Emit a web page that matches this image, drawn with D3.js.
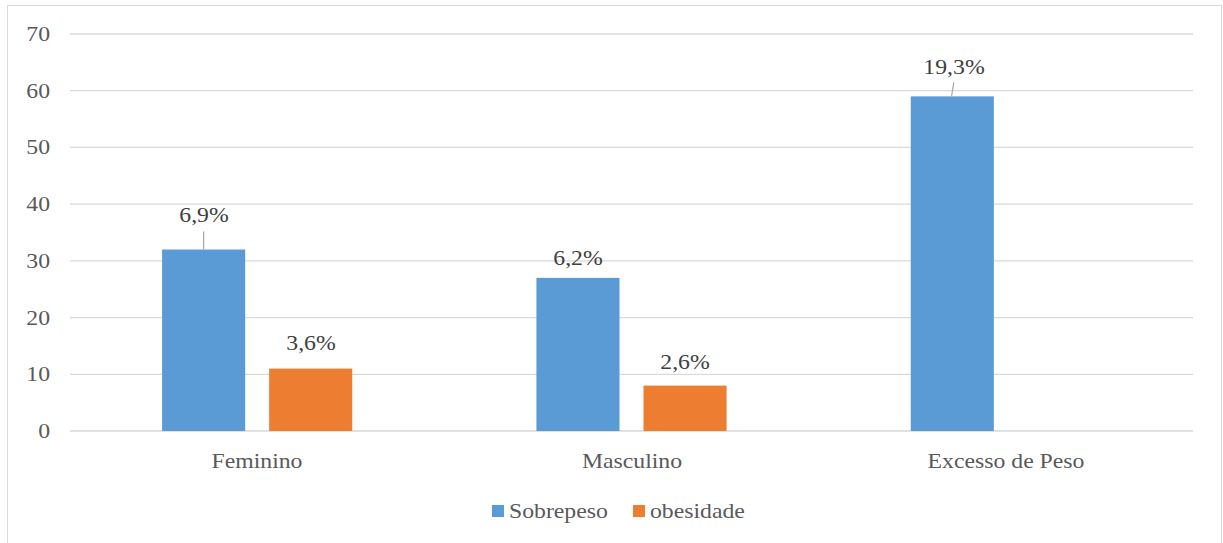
<!DOCTYPE html>
<html>
<head>
<meta charset="utf-8">
<script src="https://cdn.jsdelivr.net/npm/d3@7"></script>
<style>
  body { margin: 0; background: #fff; }
  #chart { position: relative; width: 1223px; height: 543px; overflow: hidden; }
  #chart svg { position: absolute; left: 0; top: 0; }
  .lbl { position: absolute; white-space: nowrap; line-height: 1;
         font-family: 'Liberation Serif', 'Times New Roman', serif; font-size: 21px; }
</style>
</head>
<body>
<div id="chart"><svg width="1223" height="543"></svg></div>
<script>
var categories = ['Feminino', 'Masculino', 'Excesso de Peso'];
var series = ['Sobrepeso', 'obesidade'];
var sobrepeso = [32, 27, 59];
var obesidade = [11, 8, null];
var sobrepesoLabels = ['6,9%', '6,2%', '19,3%'];
var obesidadeLabels = ['3,6%', '2,6%', null];
var yTicks = [0, 10, 20, 30, 40, 50, 60, 70];

var colors = { Sobrepeso: '#5b9bd5', obesidade: '#ed7d31' };
// gap between bar top and label centre, leader line length where there is one
var labelGap = { 'Feminino|Sobrepeso': 35, 'Feminino|obesidade': 26, 'Masculino|Sobrepeso': 20,
                 'Masculino|obesidade': 24, 'Excesso de Peso|Sobrepeso': 29 };
var leader = { 'Feminino|Sobrepeso': [0, 18], 'Excesso de Peso|Sobrepeso': [1.5, 14] };
var stretch = 1.13;   // text in the source is a bit wide

var chart = d3.select('#chart');
var svg = chart.select('svg');

function label(txt, px, py, anchor, color) {
  var tr = anchor === 'end' ? 'translate(-100%,-50%)' : anchor === 'start' ? 'translate(0,-50%)' : 'translate(-50%,-50%)';
  var origin = anchor === 'end' ? 'right center' : anchor === 'start' ? 'left center' : 'center center';
  chart.append('div').attr('class', 'lbl')
     .style('left', px + 'px').style('top', py + 'px')
     .style('transform-origin', origin)
     .style('transform', tr + ' scaleX(' + stretch + ')')
     .style('color', color)
     .text(txt);
}

// chart frame
svg.append('rect')
   .attr('x', 7.5).attr('y', 5.5)
   .attr('width', 1214).attr('height', 560)
   .attr('fill', '#fff')
   .attr('stroke', '#d9d9d9');

var plotLeft = 70, plotRight = 1193, plotTop = 34, plotBottom = 431;

var x = d3.scaleBand().domain(categories).range([plotLeft, plotRight]);
var x1 = d3.scaleBand().domain(series).range([0, x.bandwidth()]).paddingInner(0.224).paddingOuter(0.86);
var y = d3.scaleLinear().domain([0, 70]).range([plotBottom, plotTop]);

// grid
svg.append('g').selectAll('line')
   .data(yTicks).enter().append('line')
   .attr('x1', plotLeft).attr('x2', plotRight)
   .attr('y1', function(d) { return y(d); })
   .attr('y2', function(d) { return y(d); })
   .attr('stroke', '#d9d9d9').attr('stroke-width', 1.3);

// y labels
yTicks.forEach(function(d) { label(d, 50, y(d), 'end', '#595959'); });

// x labels
categories.forEach(function(c) { label(c, x(c) + x.bandwidth() / 2, 461, 'middle', '#595959'); });

var rows = [];
categories.forEach(function(c, i) {
  rows.push({ cat: c, s: 'Sobrepeso', v: sobrepeso[i], label: sobrepesoLabels[i] });
  rows.push({ cat: c, s: 'obesidade', v: obesidade[i], label: obesidadeLabels[i] });
});
rows = rows.filter(function(d) { return d.v != null; });
function cx(d) { return x(d.cat) + x1(d.s) + x1.bandwidth() / 2; }
function key(d) { return d.cat + '|' + d.s; }

svg.append('g').selectAll('rect')
   .data(rows).enter().append('rect')
   .attr('x', function(d) { return x(d.cat) + x1(d.s); })
   .attr('y', function(d) { return y(d.v); })
   .attr('width', x1.bandwidth())
   .attr('height', function(d) { return y(0) - y(d.v); })
   .attr('fill', function(d) { return colors[d.s]; });

// leader lines
svg.append('g').selectAll('line')
   .data(rows.filter(function(d) { return leader[key(d)]; }))
   .enter().append('line')
   .attr('x1', function(d) { return cx(d) + leader[key(d)][0]; })
   .attr('x2', function(d) { return cx(d) - leader[key(d)][0] / 2; })
   .attr('y1', function(d) { return y(d.v) - leader[key(d)][1]; })
   .attr('y2', function(d) { return y(d.v); })
   .attr('stroke', '#a6a6a6').attr('stroke-width', 1.2);

// value labels
rows.forEach(function(d) {
  label(d.label, cx(d) + (leader[key(d)] ? leader[key(d)][0] : 0), y(d.v) - labelGap[key(d)], 'middle', '#404040');
});

// legend
var items = [{ s: 'Sobrepeso', x: 492 }, { s: 'obesidade', x: 633 }];
items.forEach(function(it) {
  svg.append('rect')
     .attr('x', it.x).attr('y', 505)
     .attr('width', 12).attr('height', 12)
     .attr('fill', colors[it.s]);
  label(it.s, it.x + 17, 511, 'start', '#595959');
});
</script>
</body>
</html>
